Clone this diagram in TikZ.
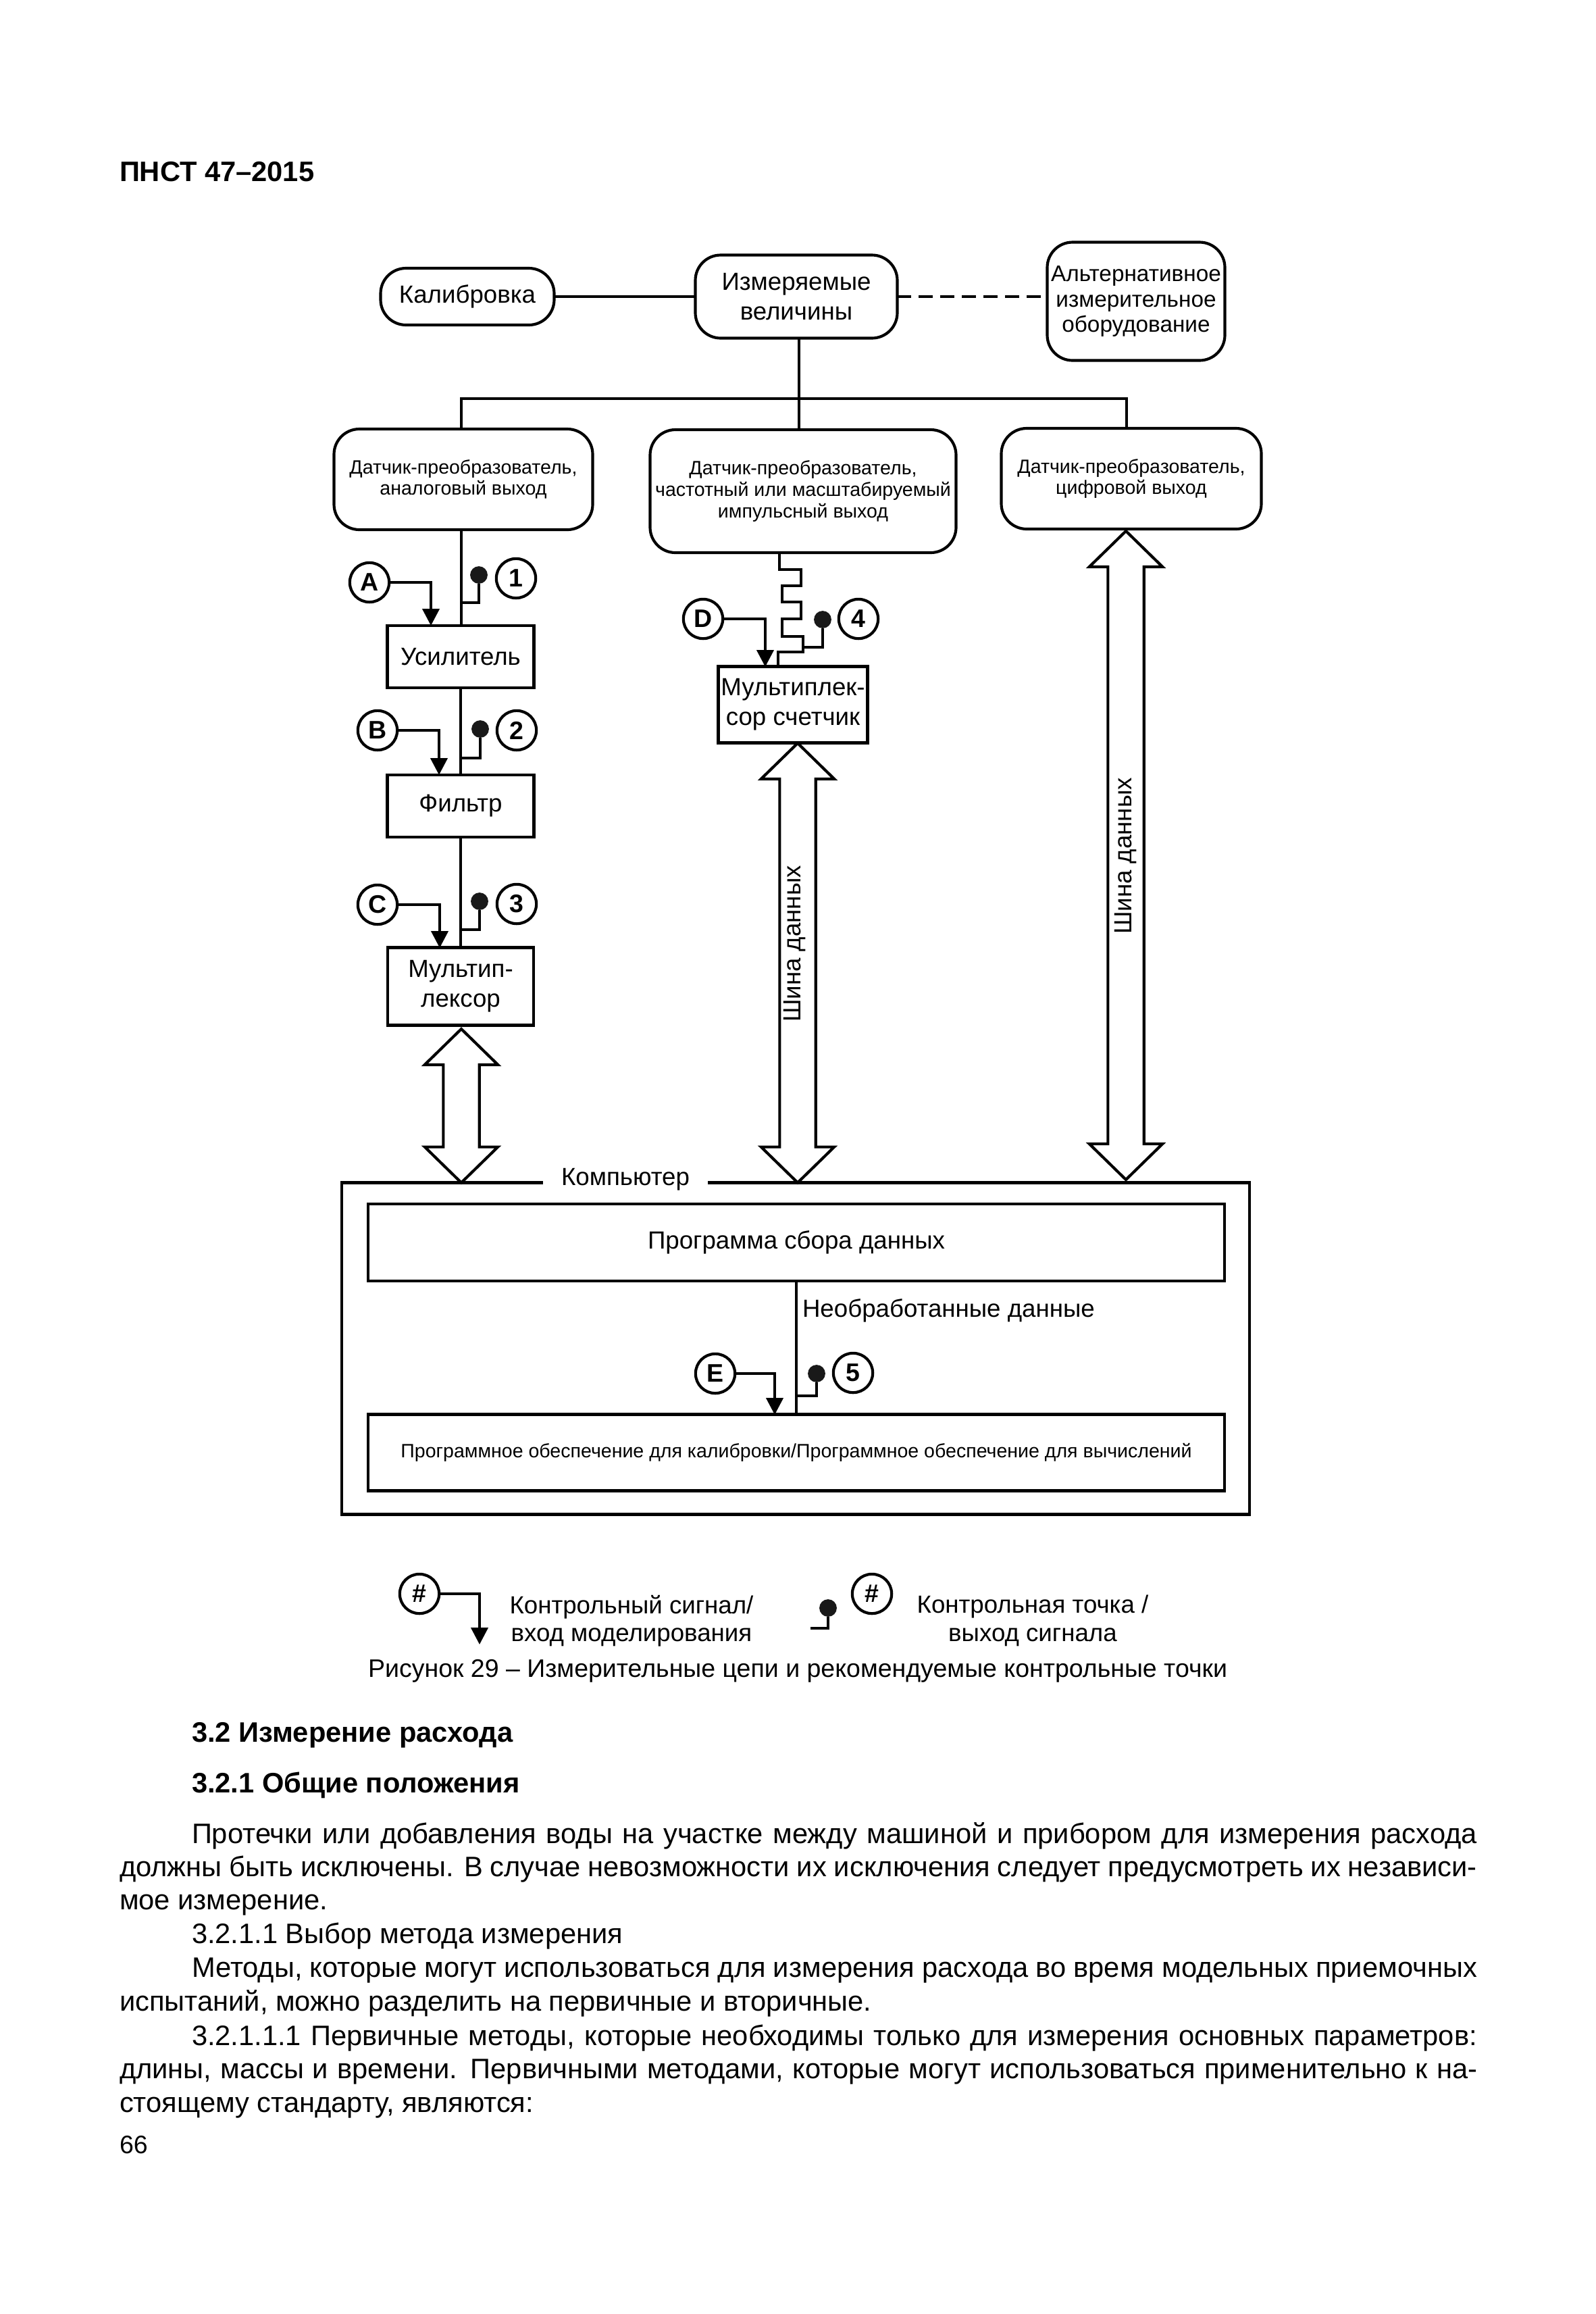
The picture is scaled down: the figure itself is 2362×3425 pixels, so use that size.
\documentclass[tikz,border=0pt]{standalone}
\usepackage{fontspec}
\setmainfont{Liberation Sans}
\usetikzlibrary{arrows.meta}
\usetikzlibrary{calc}
\tikzset{
    boxsize/.style 2 args = {minimum width=#1*0.24pt,minimum height=#2*0.24pt},
    wire/.style = {line width=1pt},
    inject/.style = {wire,-{Triangle[length=6pt,width=6pt]}},
    bus/.style = {wire,line join=miter},
    stable/.style = {draw,wire,inner sep=0,outer sep=0,align=center,font=\fontsize{8.8}{10.5}\selectfont},
    soft/.style = {stable,rounded corners=9pt},
    sensor/.style = {soft,font=\fontsize{6.85}{7.6}\selectfont},
    tagmark/.style = {draw,circle,wire,inner sep=0,outer sep=0,minimum size=14pt,font=\bfseries\fontsize{9}{9}\selectfont},
    probe/.style = {circle,fill=black!90,inner sep=0,outer sep=0,minimum size=6.2pt},
    plain/.style = {inner sep=0,outer sep=0,align=center,font=\fontsize{8.8}{10}\selectfont},
    bodyline/.style = {inner sep=0,outer sep=0,anchor=base west,font=\fontsize{10}{12}\selectfont},
    headline/.style = {bodyline,font=\bfseries\fontsize{10}{12}\selectfont}
}
\newcommand*\jline[1]{\makebox[482.4pt][s]{#1}}
\newcommand*\iline[1]{\makebox[456.7pt][s]{#1}}
% wide two-headed arrow between two points
\newcommand*\busarrow[2]{
    \draw[bus] let \p1=(#1), \p2=(#2) in
        (\x1,\y1) -- (\x1+13pt,\y1-12.7pt) -- (\x1+6.4pt,\y1-12.7pt)
        -- (\x2+6.4pt,\y2+12.7pt) -- (\x2+13pt,\y2+12.7pt) -- (\x2,\y2)
        -- (\x2-13pt,\y2+12.7pt) -- (\x2-6.4pt,\y2+12.7pt)
        -- (\x1-6.4pt,\y1-12.7pt) -- (\x1-13pt,\y1-12.7pt) -- cycle;
}
\begin{document}
\begin{tikzpicture}[x=0.24pt,y=-0.24pt]
    \useasboundingbox (0,0) rectangle (2362,3425);
    % Top row
    \node[soft,boxsize={257}{84}] (Cal) at (692,439) {Калибровка};
    \node[soft,boxsize={299}{123}] (Qty) at (1179,439) {Измеряемые\\величины};
    \node[soft,boxsize={263}{175},font=\fontsize{8}{8.9}\selectfont] (Alt) at (1682,446) {Альтернативное\\измерительное\\оборудование};
    \draw[wire] (Cal) to (Qty);
    \draw[wire,dash pattern=on 5pt off 2.65pt] (Qty) to (Alt.west |- Qty);
    % Sensors
    \node[sensor,boxsize={383}{149},anchor=north] (SensA) at (686,635) {Датчик-преобразователь,\\аналоговый выход};
    \node[sensor,boxsize={453}{182},anchor=north] (SensF) at (1189,636) {Датчик-преобразователь,\\частотный или масштабируемый\\импульсный выход};
    \node[sensor,boxsize={385}{149},anchor=north] (SensD) at (1675,634) {Датчик-преобразователь,\\цифровой выход};
    \coordinate (busa) at (683,590);
    \coordinate (busd) at (1668,590);
    \coordinate (busf) at (1183,0);
    \draw[wire] (busf |- Qty.south) to (busf |- SensF.north);
    \draw[wire] (busa |- SensA.north) -- (busa) -- (busd) -- (busd |- SensD.north);
    % Blocks
    \node[stable,boxsize={217}{92}] (Amp) at (682,972) {Усилитель};
    \node[stable,boxsize={217}{92}] (Flt) at (682,1193) {Фильтр};
    \node[stable,boxsize={216}{115}] (Mux) at (682,1460) {Мультип-\\лексор};
    \node[stable,boxsize={221}{113}] (Cnt) at (1174,1043) {Мультиплек-\\сор счетчик};
    \draw[wire] (busa |- SensA.south) to (busa |- Amp.north);
    \draw[wire] (Amp.south) to (Flt.north);
    \draw[wire] (Flt.south) to (Mux.north);
    \coordinate (za) at (1154,0);
    \coordinate (zb) at (1152,0);
    \draw[wire] (za |- SensF.south)
        -- (1154,843) -- (1186,843) -- (1186,867) -- (1158,867) -- (1158,891)
        -- (1186,891) -- (1186,916) -- (1158,916) -- (1158,942) -- (1189,942)
        -- (1189,965) -- (1152,965) -- (zb |- Cnt.north);
    % Signals and points
    \foreach \nm/\lab/\cx/\cy in {A/A/547/862,B/B/559/1081,C/C/559/1339,D/D/1041/916,E/E/1059/2033,
        n1/1/764/856,n2/2/765/1081,n3/3/765/1338,n4/4/1271/916,n5/5/1263/2032}
        \node[tagmark] (\nm) at (\cx,\cy) {\lab};
    \foreach \nm/\cx/\cy in {d1/709/851,d2/711/1079,d3/710/1334,d4/1218/917,d5/1209/2033}
        \node[probe] (\nm) at (\cx,\cy) {};
    \foreach \nm/\cx/\cy in {ea/638/926,eb/650/1147,ec/651/1403,ed/1133/987,ee/1147/2094}
        \coordinate (\nm) at (\cx,\cy);
    \foreach \nm/\cx/\cy in {ta/683/892,tb/683/1122,tc/683/1376,td/1189/958,te/1179/2066}
        \coordinate (\nm) at (\cx,\cy);
    \foreach \src/\dest in {A/ea,B/eb,C/ec,D/ed,E/ee}
        \draw[inject] (\src.east) -| (\dest);
    \foreach \src/\dest in {d1/ta,d2/tb,d3/tc,d4/td,d5/te}
        \draw[wire] (\src) |- (\dest);
    % Computer
    \node[stable,boxsize={1344}{491}] (Comp) at (1178,1996) {};
    \node[plain,fill=white,boxsize={244}{30}] (CompLab) at (926,1746) {Компьютер};
    \node[stable,boxsize={1268}{114}] (Prog) at (1179,1839) {Программа сбора данных};
    \node[stable,boxsize={1268}{113},font=\fontsize{6.85}{8}\selectfont] (Soft) at (1179,2150) {Программное обеспечение для калибровки/Программное обеспечение для вычислений};
    \draw[wire] (Prog.south) to (Soft.north);
    \node[plain,anchor=west] (Raw) at (1188,1940) {Необработанные данные};
    % Data buses
    \coordinate (mtop) at (683,1523);
    \coordinate (ctop) at (1181,1100);
    \coordinate (dtop) at (1667,786);
    \coordinate (dend) at (1667,1746);
    \busarrow{mtop}{mtop |- Comp.north}
    \busarrow{ctop}{ctop |- Comp.north}
    \busarrow{dtop}{dend}
    \node[plain,rotate=90] (BusC) at (1177,1397) {Шина данных};
    \node[plain,rotate=90] (BusD) at (1667,1267) {Шина данных};
    % Legend
    \node[tagmark] (KeyA) at (621,2359) {\#};
    \node[tagmark] (KeyB) at (1291,2359) {\#};
    \node[probe] (KeyP) at (1226,2380) {};
    \coordinate (keye) at (710,2434);
    \coordinate (keyt) at (1200,2410);
    \draw[inject] (KeyA.east) -| (keye);
    \draw[wire] (KeyP) |- (keyt);
    \node[plain] (KeyTa) at (935,2399) {Контрольный сигнал/\\вход моделирования};
    \node[plain] (KeyTb) at (1529,2399) {Контрольная точка /\\выход сигнала};
    \node[plain,font=\fontsize{9}{11}\selectfont] (Cap) at (1181,2473) {Рисунок 29 – Измерительные цепи и рекомендуемые контрольные точки};
    % Page text
    \node[headline] (Head) at (177,268) {ПНСТ 47–2015};
    \node[headline] (Sec) at (284,2578) {3.2 Измерение расхода};
    \node[headline] (Sub) at (284,2653) {3.2.1 Общие положения};
    \node[bodyline] (La) at (284,2728) {\iline{Протечки или добавления воды на участке между машиной и прибором для измерения расхода}};
    \node[bodyline] (Lb) at (177,2777) {\jline{должны быть исключены. В случае невозможности их исключения следует предусмотреть их независи-}};
    \node[bodyline] (Lc) at (177,2826) {мое измерение.};
    \node[bodyline] (Ld) at (284,2876) {3.2.1.1 Выбор метода измерения};
    \node[bodyline] (Le) at (284,2926) {\iline{Методы, которые могут использоваться для измерения расхода во время модельных приемочных}};
    \node[bodyline] (Lf) at (177,2976) {испытаний, можно разделить на первичные и вторичные.};
    \node[bodyline] (Lg) at (284,3027) {\iline{3.2.1.1.1 Первичные методы, которые необходимы только для измерения основных параметров:}};
    \node[bodyline] (Lh) at (177,3076) {\jline{длины, массы и времени. Первичными методами, которые могут использоваться применительно к на-}};
    \node[bodyline] (Li) at (177,3126) {стоящему стандарту, являются:};
    \node[bodyline,font=\fontsize{9}{12}\selectfont] (Num) at (177,3187) {66};
\end{tikzpicture}
\end{document}
